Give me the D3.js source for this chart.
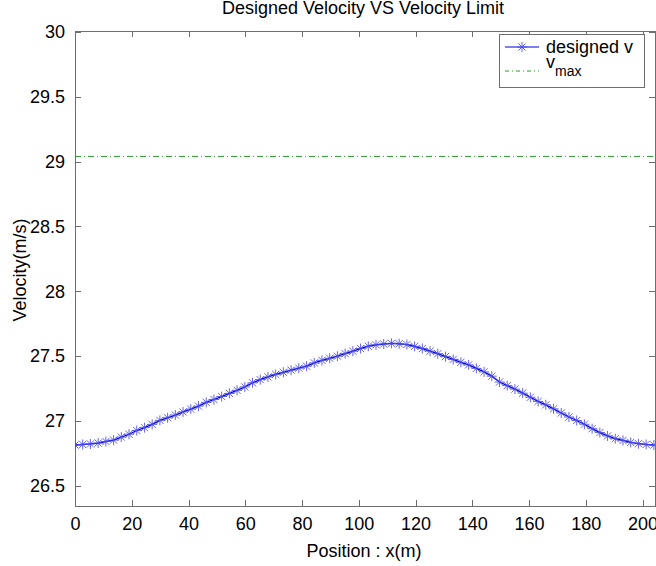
<!DOCTYPE html>
<html><head><meta charset="utf-8">
<script src="https://cdn.jsdelivr.net/npm/d3@7"></script>
<style>
html,body{margin:0;padding:0;background:#fff;}
svg{display:block;font-family:"Liberation Sans",Arial,sans-serif;}
</style></head>
<body>
<svg id="chart" width="656" height="566"></svg>
<script>
const titleText = "Designed Velocity VS Velocity Limit";
const xLabelText = "Position : x(m)";
const yLabelText = "Velocity(m/s)";
const xTicks = [0,20,40,60,80,100,120,140,160,180,200];
const yTicks = [26.5,27,27.5,28,28.5,29,29.5,30];
const positions = [0,2.72,5.44,8.16,10.88,13.6,16.32,19.04,21.76,24.48,27.2,29.92,32.64,35.36,38.08,40.8,43.52,46.24,48.96,51.68,54.4,57.12,59.84,62.56,65.28,68,70.72,73.44,76.16,78.88,81.6,84.32,87.04,89.76,92.48,95.2,97.92,100.64,103.36,106.08,108.8,111.52,114.24,116.96,119.68,122.4,125.12,127.84,130.56,133.28,136,138.72,141.44,144.16,146.88,149.6,152.32,155.04,157.76,160.48,163.2,165.92,168.64,171.36,174.08,176.8,179.52,182.24,184.96,187.68,190.4,193.12,195.84,198.56,201.28,204];
const designedV = [26.814,26.818,26.822,26.829,26.841,26.852,26.875,26.897,26.926,26.948,26.973,27.004,27.024,27.045,27.069,27.091,27.114,27.143,27.165,27.188,27.212,27.236,27.262,27.294,27.318,27.339,27.359,27.375,27.391,27.407,27.422,27.447,27.467,27.483,27.499,27.519,27.538,27.558,27.576,27.587,27.593,27.598,27.595,27.589,27.575,27.558,27.538,27.518,27.496,27.474,27.452,27.432,27.405,27.378,27.345,27.30,27.272,27.245,27.214,27.182,27.15,27.124,27.093,27.061,27.03,27.003,26.974,26.94,26.91,26.884,26.863,26.849,26.834,26.824,26.818,26.814];
const vMax = 29.04;
const seriesNames = ["designed v","v"];

const pLeft = 75, pRight = 655, pTop = 31, pBottom = 506;
const svg = d3.select("#chart");
const x = d3.scaleLinear().domain([0, 204.4]).range([pLeft, pRight]);
const y = d3.scaleLinear().domain([26.3435, 30.0075]).range([pBottom, pTop]);

const axisColor = "#6e6e6e";
const fontSize = 18;

svg.append("rect").attr("x", pLeft).attr("y", pTop).attr("width", pRight-pLeft).attr("height", pBottom-pTop)
  .attr("fill", "#fff").attr("stroke", axisColor).attr("stroke-width", 1).attr("shape-rendering","crispEdges");

function styleAxis(g, hideText){
  g.select(".domain").remove();
  g.selectAll(".tick line").attr("stroke", axisColor).attr("shape-rendering","crispEdges");
  g.selectAll(".tick text").attr("fill", "#000").style("font-size", fontSize+"px")
   .style("font-family", '"Liberation Sans",Arial,sans-serif');
  if (hideText) g.selectAll(".tick text").remove();
}
const tk = 6;
svg.append("g").attr("transform", `translate(0,${pBottom})`)
  .call(d3.axisBottom(x).tickValues(xTicks).tickSize(-tk).tickPadding(11).tickFormat(d3.format("d")))
  .call(g => styleAxis(g, false));
svg.append("g").attr("transform", `translate(0,${pTop})`)
  .call(d3.axisTop(x).tickValues(xTicks).tickSize(-tk))
  .call(g => styleAxis(g, true));
svg.append("g").attr("transform", `translate(${pLeft},0)`)
  .call(d3.axisLeft(y).tickValues(yTicks).tickSize(-tk).tickPadding(10).tickFormat(d => String(d)))
  .call(g => styleAxis(g, false));
svg.append("g").attr("transform", `translate(${pRight},0)`)
  .call(d3.axisRight(y).tickValues(yTicks).tickSize(-tk))
  .call(g => styleAxis(g, true));

svg.append("clipPath").attr("id","clip").append("rect")
  .attr("x", pLeft).attr("y", pTop).attr("width", pRight-pLeft).attr("height", pBottom-pTop);
const plot = svg.append("g").attr("clip-path","url(#clip)");

const green = "#2e9a2e";
plot.append("line").attr("x1", x(0)).attr("x2", x(204.4)).attr("y1", y(vMax)).attr("y2", y(vMax))
  .attr("stroke", green).attr("stroke-width", 1).attr("stroke-dasharray", "6,3,1,3");

const pts = positions.map((p,i) => [p, designedV[i]]);
const blue = "#0000e6";
plot.append("path").datum(pts)
  .attr("d", d3.line().x(d => x(d[0])).y(d => y(d[1])))
  .attr("fill","none").attr("stroke", blue).attr("stroke-width", 1.3);

function star(g, cx, cy, s){
  const d = s*0.72;
  g.append("path")
   .attr("d", `M${cx-s},${cy}L${cx+s},${cy}M${cx},${cy-s}L${cx},${cy+s}M${cx-d},${cy-d}L${cx+d},${cy+d}M${cx-d},${cy+d}L${cx+d},${cy-d}`)
   .attr("stroke", "#4a4ae6").attr("stroke-width", 1).attr("fill","none").attr("stroke-opacity",0.85);
}
const mk = plot.append("g");
pts.forEach(d => star(mk, x(d[0]), y(d[1]), 5));

const lg = svg.append("g");
const lx0 = 499, ly0 = 34, lw = 145, lh = 53;
lg.append("rect").attr("x", lx0).attr("y", ly0).attr("width", lw).attr("height", lh)
  .attr("fill","#fff").attr("stroke", axisColor).attr("stroke-width",1).attr("shape-rendering","crispEdges");
lg.append("line").attr("x1", lx0+6).attr("x2", lx0+40).attr("y1", ly0+13).attr("y2", ly0+13)
  .attr("stroke", blue).attr("stroke-width",1.2);
star(lg, lx0+23, ly0+13, 5);
lg.append("text").attr("x", lx0+47).attr("y", ly0+19).attr("font-size", fontSize).attr("fill","#000").text(seriesNames[0]);
lg.append("line").attr("x1", lx0+6).attr("x2", lx0+40).attr("y1", ly0+37).attr("y2", ly0+37)
  .attr("stroke", green).attr("stroke-width",1).attr("stroke-dasharray","4,3,1,3");
lg.append("text").attr("x", lx0+47).attr("y", ly0+34).attr("font-size", fontSize).attr("fill","#000").text(seriesNames[1]);
lg.append("text").attr("x", lx0+56).attr("y", ly0+42).attr("font-size", 14).attr("fill","#000").text("max");

svg.append("text").attr("x", (pLeft+pRight)/2 - 2).attr("y", 14).attr("text-anchor","middle")
  .attr("font-size", fontSize).attr("fill","#000").text(titleText);
svg.append("text").attr("x", 364).attr("y", 557).attr("text-anchor","middle")
  .attr("font-size", fontSize).attr("fill","#000").text(xLabelText);
svg.append("text").attr("transform", "translate(26,270) rotate(-90)").attr("text-anchor","middle")
  .attr("font-size", fontSize).attr("fill","#000").text(yLabelText);
</script>
</body></html>
